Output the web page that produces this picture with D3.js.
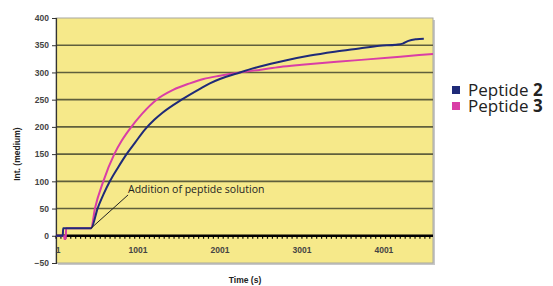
<!DOCTYPE html>
<html>
<head>
<meta charset="utf-8">
<script src="https://cdn.jsdelivr.net/npm/d3@7"></script>
<style>
  body { margin: 0; background: #fff; }
  svg { display: block; }
</style>
</head>
<body>
<div id="plot"></div>
<script>
// values
const yTicks = [-50, 0, 50, 100, 150, 200, 250, 300, 350, 400];
const xTicks = [1, 1001, 2001, 3001, 4001];

const timeP2 = [1, 84, 88, 430, 508, 580, 658, 760, 862, 970, 1085, 1200, 1300, 1533, 1757, 1878, 2000, 2244, 2490, 2800, 3100, 3400, 3700, 3950, 4150, 4230, 4300, 4400, 4488];
const valP2 = [0, 0, 14, 14, 50, 76, 100, 126, 150, 172, 195, 213, 226, 250, 270, 280, 288, 300, 311, 322, 331, 338, 344, 349, 351, 353, 358, 361, 362];

const timeP3 = [1, 100, 104, 120, 124, 430, 476, 578, 712, 800, 895, 1050, 1228, 1430, 1634, 1800, 2000, 2244, 2500, 2733, 3000, 3465, 3800, 4200, 4600];
const valP3 = [0, 0, -6, -6, 14, 14, 50, 100, 150, 174, 195, 224, 250, 268, 280, 288, 294, 300, 305, 310, 314, 320, 324, 329, 334];

const seriesNames = ['Peptide 2', 'Peptide 3'];

const svgWidth = 553, svgHeight = 286;
const margin = {left: 56, right: 120, top: 18, bottom: 23};

const svg = d3.select('#plot').append('svg')
    .attr('width', svgWidth)
    .attr('height', svgHeight);

const x = d3.scaleLinear().domain([1, 4600]).range([margin.left, svgWidth - margin.right]);
const y = d3.scaleLinear().domain([-50, 400]).range([svgHeight - margin.bottom, margin.top]);

const color = d3.scaleOrdinal().domain(seriesNames).range(['#1f2a78', '#d93ea6']);

// plot area with a soft shadow
svg.append('rect')
    .attr('x', x.range()[0] + 2).attr('y', y.range()[1] + 2)
    .attr('width', x.range()[1] - x.range()[0])
    .attr('height', y.range()[0] - y.range()[1])
    .attr('fill', '#c8c8c8');
svg.append('rect')
    .attr('x', x.range()[0]).attr('y', y.range()[1])
    .attr('width', x.range()[1] - x.range()[0])
    .attr('height', y.range()[0] - y.range()[1])
    .attr('fill', '#f6e98a')
    .attr('stroke', '#a8a8a0')
    .attr('stroke-width', 1);

// grid lines
svg.append('g')
    .selectAll('line')
    .data(yTicks.filter(d => d > -50 && d < 400 && d !== 0))
    .enter()
    .append('line')
    .attr('x1', x.range()[0]).attr('x2', x.range()[1])
    .attr('y1', d => y(d)).attr('y2', d => y(d))
    .attr('stroke', '#5f5f3c')
    .attr('stroke-width', 1.6);

// y axis
const yAxis = svg.append('g')
    .attr('transform', `translate(${x.range()[0]},0)`)
    .call(d3.axisLeft(y).tickValues(yTicks).tickSize(4).tickFormat(d3.format('d')));
yAxis.select('.domain').attr('stroke', '#333').attr('stroke-width', 1.2);
yAxis.selectAll('.tick line').attr('stroke', '#333');
yAxis.selectAll('.tick text')
    .attr('font-family', 'Liberation Sans, Arial, sans-serif')
    .attr('font-size', 8.5).attr('font-weight', 'bold').attr('fill', '#444')
    .attr('x', -7);

// x axis at zero
const minor = d3.range(1, 4600, 60);
svg.append('g')
    .selectAll('line')
    .data(minor)
    .enter()
    .append('line')
    .attr('x1', d => x(d)).attr('x2', d => x(d))
    .attr('y1', y(0)).attr('y2', y(0) + 3)
    .attr('stroke', '#111').attr('stroke-width', 1.2);
svg.append('line')
    .attr('x1', x.range()[0]).attr('x2', x.range()[1])
    .attr('y1', y(0)).attr('y2', y(0))
    .attr('stroke', '#000').attr('stroke-width', 2.6);

svg.append('g')
    .selectAll('text')
    .data(xTicks)
    .enter()
    .append('text')
    .attr('x', d => x(d) + (d === 1 ? 2 : 0))
    .attr('y', y(0) + 17)
    .attr('text-anchor', 'middle')
    .attr('font-family', 'Liberation Sans, Arial, sans-serif')
    .attr('font-size', 8.5).attr('font-weight', 'bold').attr('fill', '#444')
    .text(d => d);

// axis titles
svg.append('text')
    .attr('transform', `translate(20,${y(150)}) rotate(-90)`)
    .attr('text-anchor', 'middle')
    .attr('font-family', 'Liberation Sans, Arial, sans-serif')
    .attr('font-size', 8.5).attr('font-weight', 'bold').attr('fill', '#222')
    .text('Int. (medium)');
svg.append('text')
    .attr('x', 245).attr('y', 283)
    .attr('text-anchor', 'middle')
    .attr('font-family', 'Liberation Sans, Arial, sans-serif')
    .attr('font-size', 8.5).attr('font-weight', 'bold').attr('fill', '#222')
    .text('Time (s)');

// series
const plotData = [
  {key: seriesNames[0], values: timeP2.map((t, i) => ({t, v: valP2[i]}))},
  {key: seriesNames[1], values: timeP3.map((t, i) => ({t, v: valP3[i]}))},
];
const line = d3.line().x(d => x(d.t)).y(d => y(d.v)).curve(d3.curveMonotoneX);

svg.append('g')
    .selectAll('path')
    .data(plotData.slice().reverse())
    .enter()
    .append('path')
    .attr('fill', 'none')
    .attr('stroke', d => color(d.key))
    .attr('stroke-width', 2)
    .attr('d', d => line(d.values));

// annotation
svg.append('line')
    .attr('x1', x(430)).attr('y1', y(14))
    .attr('x2', x(880)).attr('y2', y(75))
    .attr('stroke', '#222').attr('stroke-width', 1);
svg.append('text')
    .attr('x', x(880)).attr('y', y(75) - 2)
    .attr('font-family', 'Open Sans, sans-serif')
    .attr('font-size', 10.5).attr('fill', '#222')
    .text('Addition of peptide solution');

// legend
const legend = svg.append('g')
    .selectAll('g')
    .data(seriesNames)
    .enter()
    .append('g')
    .attr('transform', (d, i) => `translate(452,${90 + i * 16})`);
legend.append('rect')
    .attr('x', 0).attr('y', -4).attr('width', 8).attr('height', 8)
    .attr('fill', d => color(d));
const lt = legend.append('text')
    .attr('x', 16).attr('y', 6)
    .attr('font-family', 'Open Sans, sans-serif')
    .attr('font-size', 17).attr('fill', '#222');
lt.append('tspan').text(d => d.split(' ')[0] + ' ');
lt.append('tspan').attr('font-weight', 'bold').text(d => d.split(' ')[1]);
</script>
</body>
</html>
